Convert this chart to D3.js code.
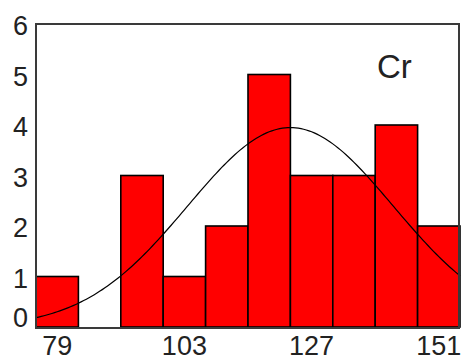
<!DOCTYPE html>
<html>
<head>
<meta charset="utf-8">
<script src="https://cdn.jsdelivr.net/npm/d3@7"></script>
<style>
  body { margin: 0; background: #fff; }
  text { font-family: "Liberation Sans", Arial, sans-serif; fill: #222; }
</style>
</head>
<body>
<svg width="462" height="360"></svg>
<script>
// histogram of Cr, bins of width 8 centred on 79..151
var binStarts = [75, 83, 91, 99, 107, 115, 123, 131, 139, 147];
var counts = [1, 0, 3, 1, 2, 5, 3, 3, 4, 2];
var xTicks = [79, 103, 127, 151];
var yTicks = [0, 1, 2, 3, 4, 5, 6];
var binWidth = 8;
// fitted normal curve parameters
var fitMean = 123;
var fitSd = 19.4;
var label = 'Cr';

var svg = d3.select('svg');
// note: "top" is a reserved window global, so use plot* names
var plotLeft = 36, plotRight = 460, plotTop = 24, plotBottom = 327;

var x = d3.scaleLinear().domain([75, 155]).range([plotLeft, plotRight]);
var y = d3.scaleLinear().domain([0, 6]).range([plotBottom, plotTop]);

// bars
svg.selectAll('rect.bar')
    .data(counts.map(function(c, i) { return {x0: binStarts[i], n: c}; }).filter(function(d) { return d.n > 0; }))
    .enter()
    .append('rect')
        .attr('class', 'bar')
        .attr('x', function(d) { return x(d.x0) })
        .attr('y', function(d) { return y(d.n) })
        .attr('width', function(d) { return x(d.x0 + binWidth) - x(d.x0) })
        .attr('height', function(d) { return y(0) - y(d.n) })
        .attr('fill', '#ff0000')
        .attr('stroke', '#000')
        .attr('stroke-width', 1.6);

// normal curve, scaled to counts
var total = d3.sum(counts);
var pts = d3.range(75, 155.01, 0.5).map(function(v) {
    var z = (v - fitMean) / fitSd;
    return [v, total * binWidth * Math.exp(-0.5 * z * z) / (fitSd * Math.sqrt(2 * Math.PI))];
});
svg.append('path')
    .datum(pts)
    .attr('fill', 'none')
    .attr('stroke', '#000')
    .attr('stroke-width', 1.2)
    .attr('d', d3.line().x(function(d) { return x(d[0]) }).y(function(d) { return y(d[1]) }));

// frame
svg.append('rect')
    .attr('x', plotLeft).attr('y', plotTop)
    .attr('width', plotRight - plotLeft - 1).attr('height', plotBottom - plotTop + 1)
    .attr('fill', 'none')
    .attr('stroke', '#3a3a3a')
    .attr('stroke-width', 2);

// y tick labels
svg.selectAll('text.ytick')
    .data(yTicks)
    .enter()
    .append('text')
        .attr('class', 'ytick')
        .attr('x', 28)
        .attr('y', function(d) { return (d == 0 ? y(d) - 10 : y(d) + 1) + 10 })
        .attr('text-anchor', 'end')
        .attr('font-size', 27)
        .text(function(d) { return d });

// x tick labels
svg.selectAll('text.xtick')
    .data(xTicks)
    .enter()
    .append('text')
        .attr('class', 'xtick')
        .attr('x', function(d) { return x(d) })
        .attr('y', 355)
        .attr('text-anchor', 'middle')
        .attr('font-size', 27)
        .text(function(d) { return d });

svg.append('text')
    .attr('x', 377)
    .attr('y', 78)
    .attr('font-size', 33)
    .text(label);
</script>
</body>
</html>
